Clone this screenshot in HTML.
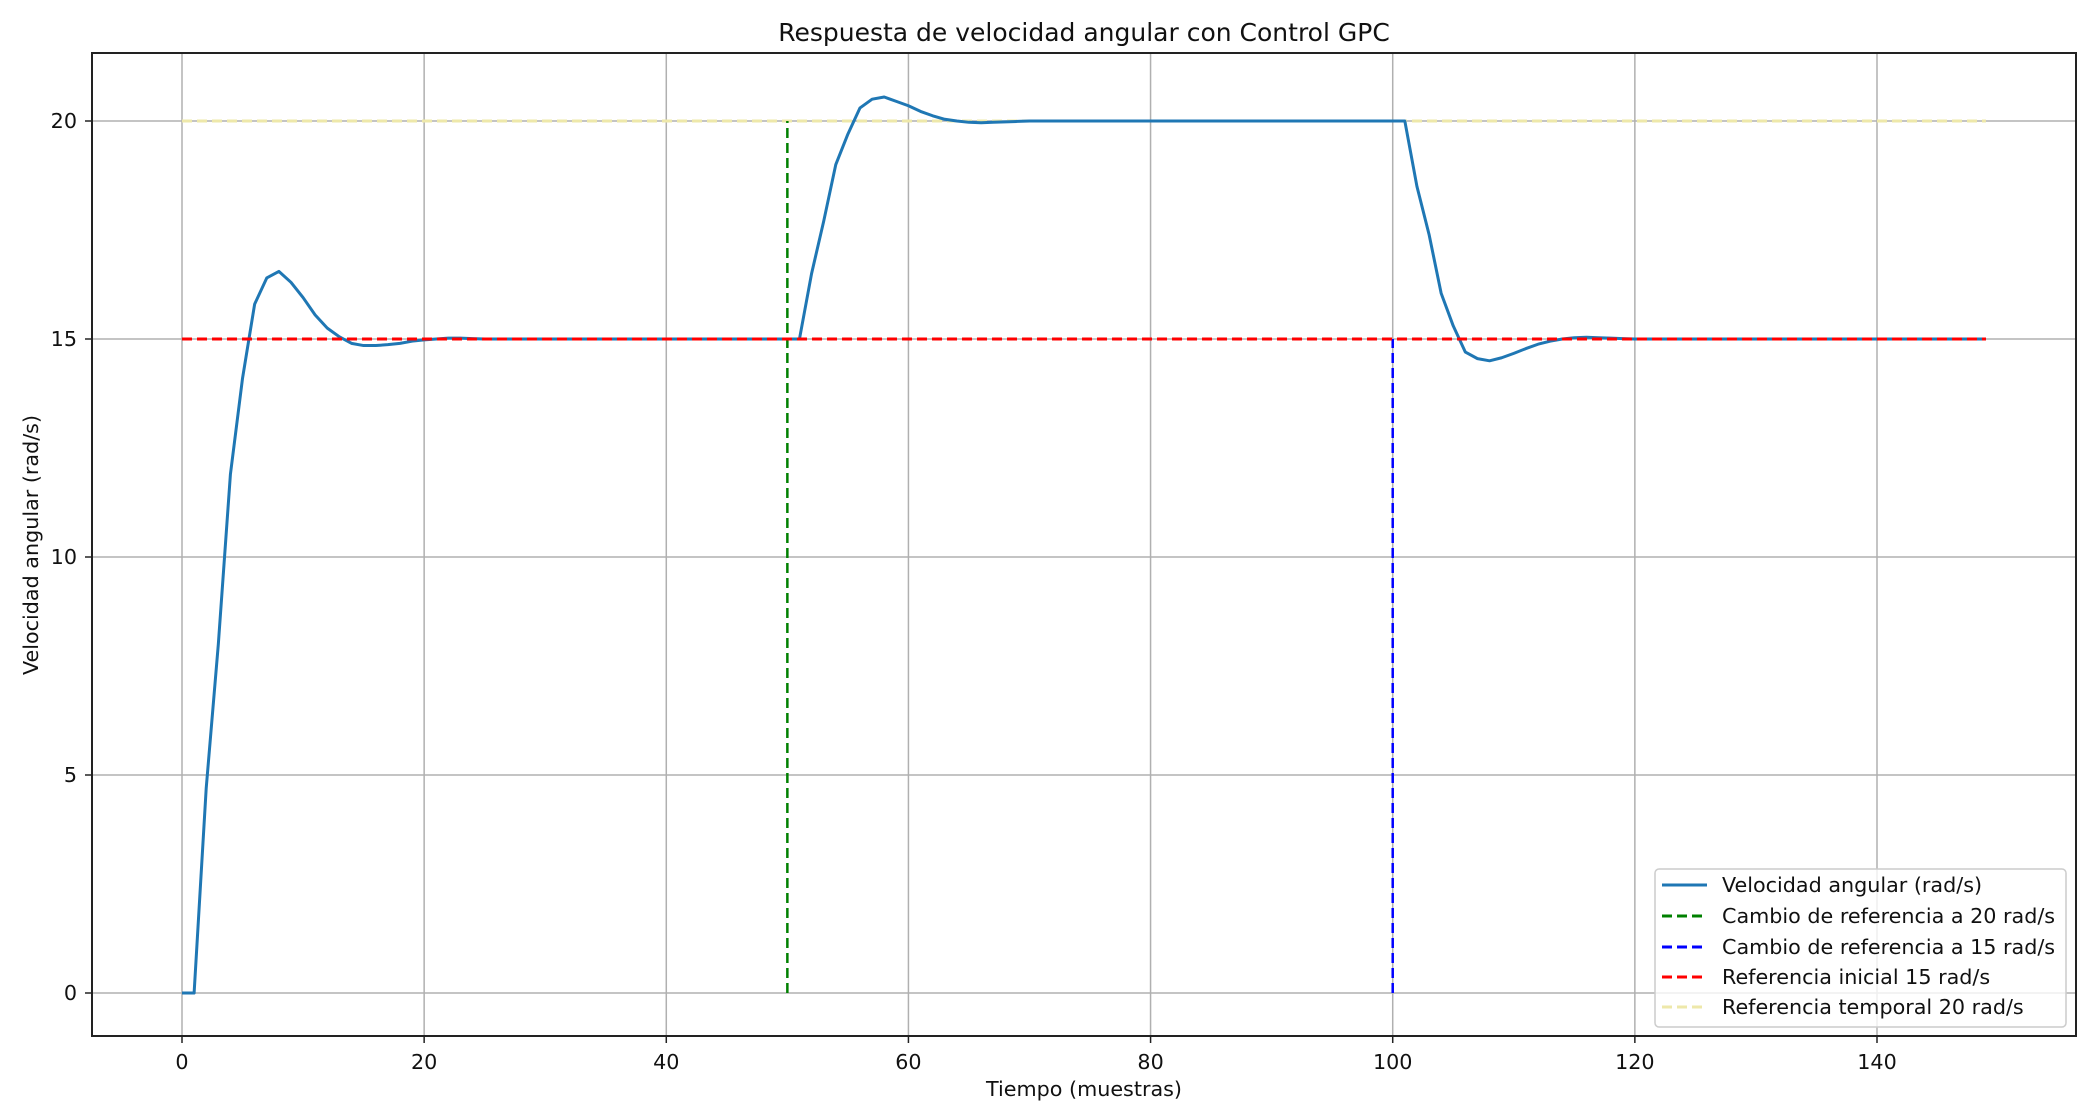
<!DOCTYPE html>
<html><head><meta charset="utf-8"><style>
body{margin:0;background:#fff}
svg{display:block;font-family:"DejaVu Sans","Liberation Sans",sans-serif}
</style></head><body>
<svg id="c" width="2089" height="1113" viewBox="0 0 2089 1113">
<rect width="2089" height="1113" fill="#fff"/>
<g id="grid"></g>
<g id="series"></g>
<rect x="92" y="53" width="1984" height="983" fill="none" stroke="#222" stroke-width="2"/>
<g id="ticks"></g>
<text x="1084" y="41" font-size="25" text-anchor="middle" fill="#111">Respuesta de velocidad angular con Control GPC</text>
<text x="1084" y="1096" font-size="20.7" text-anchor="middle" fill="#111">Tiempo (muestras)</text>
<text x="0" y="0" font-size="20.7" text-anchor="middle" fill="#111" transform="translate(38,545) rotate(-90)">Velocidad angular (rad/s)</text>
<g>
<rect x="1655" y="869" width="411" height="158" rx="4" fill="#fff" fill-opacity="0.8" stroke="#ccc" stroke-width="1.5"/>
<line x1="1662" y1="885" x2="1707" y2="885" stroke="#1f77b4" stroke-width="3"/>
<text x="1722" y="892" font-size="20.7" fill="#111">Velocidad angular (rad/s)</text>
<line x1="1662" y1="916" x2="1707" y2="916" stroke="green" stroke-width="3" stroke-dasharray="10,5"/>
<text x="1722" y="923" font-size="20.7" fill="#111">Cambio de referencia a 20 rad/s</text>
<line x1="1662" y1="947" x2="1707" y2="947" stroke="blue" stroke-width="3" stroke-dasharray="10,5"/>
<text x="1722" y="954" font-size="20.7" fill="#111">Cambio de referencia a 15 rad/s</text>
<line x1="1662" y1="977" x2="1707" y2="977" stroke="red" stroke-width="3" stroke-dasharray="10,5"/>
<text x="1722" y="984" font-size="20.7" fill="#111">Referencia inicial 15 rad/s</text>
<line x1="1662" y1="1007" x2="1707" y2="1007" stroke="#eee8aa" stroke-width="3" stroke-dasharray="10,5"/>
<text x="1722" y="1014" font-size="20.7" fill="#111">Referencia temporal 20 rad/s</text>
</g>
</svg>
<script>
const xTicks=[0,20,40,60,80,100,120,140];
const yTicks=[0,5,10,15,20];
const speed=[0,0,4.7,8,11.9,14.1,15.8,16.4,16.55,16.3,15.95,15.55,15.25,15.05,14.9,14.85,14.85,14.87,14.9,14.95,14.98,15,15.02,15.02,15.01,
15,15,15,15,15,15,15,15,15,15,15,15,15,15,15,15,15,15,15,15,15,15,15,15,15,15,15,
16.5,17.7,19.0,19.7,20.3,20.5,20.55,20.45,20.35,20.22,20.12,20.04,20.0,19.97,19.96,19.97,19.98,19.99,20,
20,20,20,20,20,20,20,20,20,20,20,20,20,20,20,20,20,20,20,20,20,20,20,20,20,20,20,20,20,20,20,
18.5,17.4,16.05,15.3,14.7,14.55,14.5,14.57,14.67,14.78,14.88,14.95,15.0,15.03,15.04,15.03,15.02,15.01,
15,15,15,15,15,15,15,15,15,15,15,15,15,15,15,15,15,15,15,15,15,15,15,15,15,15,15,15,15,15];
const refInitial=[15,0,149];
const refTemporal=[20,0,149];
const change20=[50,0,20];
const change15=[100,0,15];
const NS="http://www.w3.org/2000/svg";
const X=v=>182+v*(1877-182)/140;
const Y=v=>993-v*(993-121)/20;
function mk(tag,attrs,parent){const e=document.createElementNS(NS,tag);for(const k in attrs)e.setAttribute(k,attrs[k]);document.getElementById(parent).appendChild(e);return e;}
xTicks.forEach(t=>{
 const g=mk('line',{x1:X(t),x2:X(t),y1:53,y2:1036,stroke:'#b0b0b0','stroke-width':1.5},'grid');
 
 
 const k=mk('line',{x1:X(t),x2:X(t),y1:1036,y2:1043,stroke:'#222','stroke-width':1.5},'ticks');
 
 
 const l=mk('text',{x:X(t),y:1069,'font-size':20.7,'text-anchor':'middle',fill:'#111'},'ticks');
 l.textContent=t;
 
 
});
yTicks.forEach(t=>{
 const g=mk('line',{x1:92,x2:2076,y1:Y(t),y2:Y(t),stroke:'#b0b0b0','stroke-width':1.5},'grid');
 
 
 const k=mk('line',{x1:85,x2:92,y1:Y(t),y2:Y(t),stroke:'#222','stroke-width':1.5},'ticks');
 
 
 const l=mk('text',{x:77,y:Y(t)+7,'font-size':20.7,'text-anchor':'end',fill:'#111'},'ticks');
 l.textContent=t;
 
 
});
const ry=mk('line',{x1:X(refTemporal[1]),x2:X(refTemporal[2]),y1:Y(refTemporal[0]),y2:Y(refTemporal[0]),stroke:'#eee8aa','stroke-width':3,'stroke-dasharray':'10,5'},'series');


const g20=mk('line',{x1:X(change20[0]),x2:X(change20[0]),y1:Y(change20[1]),y2:Y(change20[2]),stroke:'green','stroke-width':2.5,'stroke-dasharray':'10,5'},'series');


const b15=mk('line',{x1:X(change15[0]),x2:X(change15[0]),y1:Y(change15[1]),y2:Y(change15[2]),stroke:'blue','stroke-width':2.5,'stroke-dasharray':'10,5'},'series');


const sp=mk('polyline',{points:speed.map((v,i)=>X(i)+','+Y(v)).join(' '),fill:'none',stroke:'#1f77b4','stroke-width':3,'stroke-linejoin':'round'},'series');


const rr=mk('line',{x1:X(refInitial[1]),x2:X(refInitial[2]),y1:Y(refInitial[0]),y2:Y(refInitial[0]),stroke:'red','stroke-width':3,'stroke-dasharray':'10,5'},'series');


</script>
</body></html>
